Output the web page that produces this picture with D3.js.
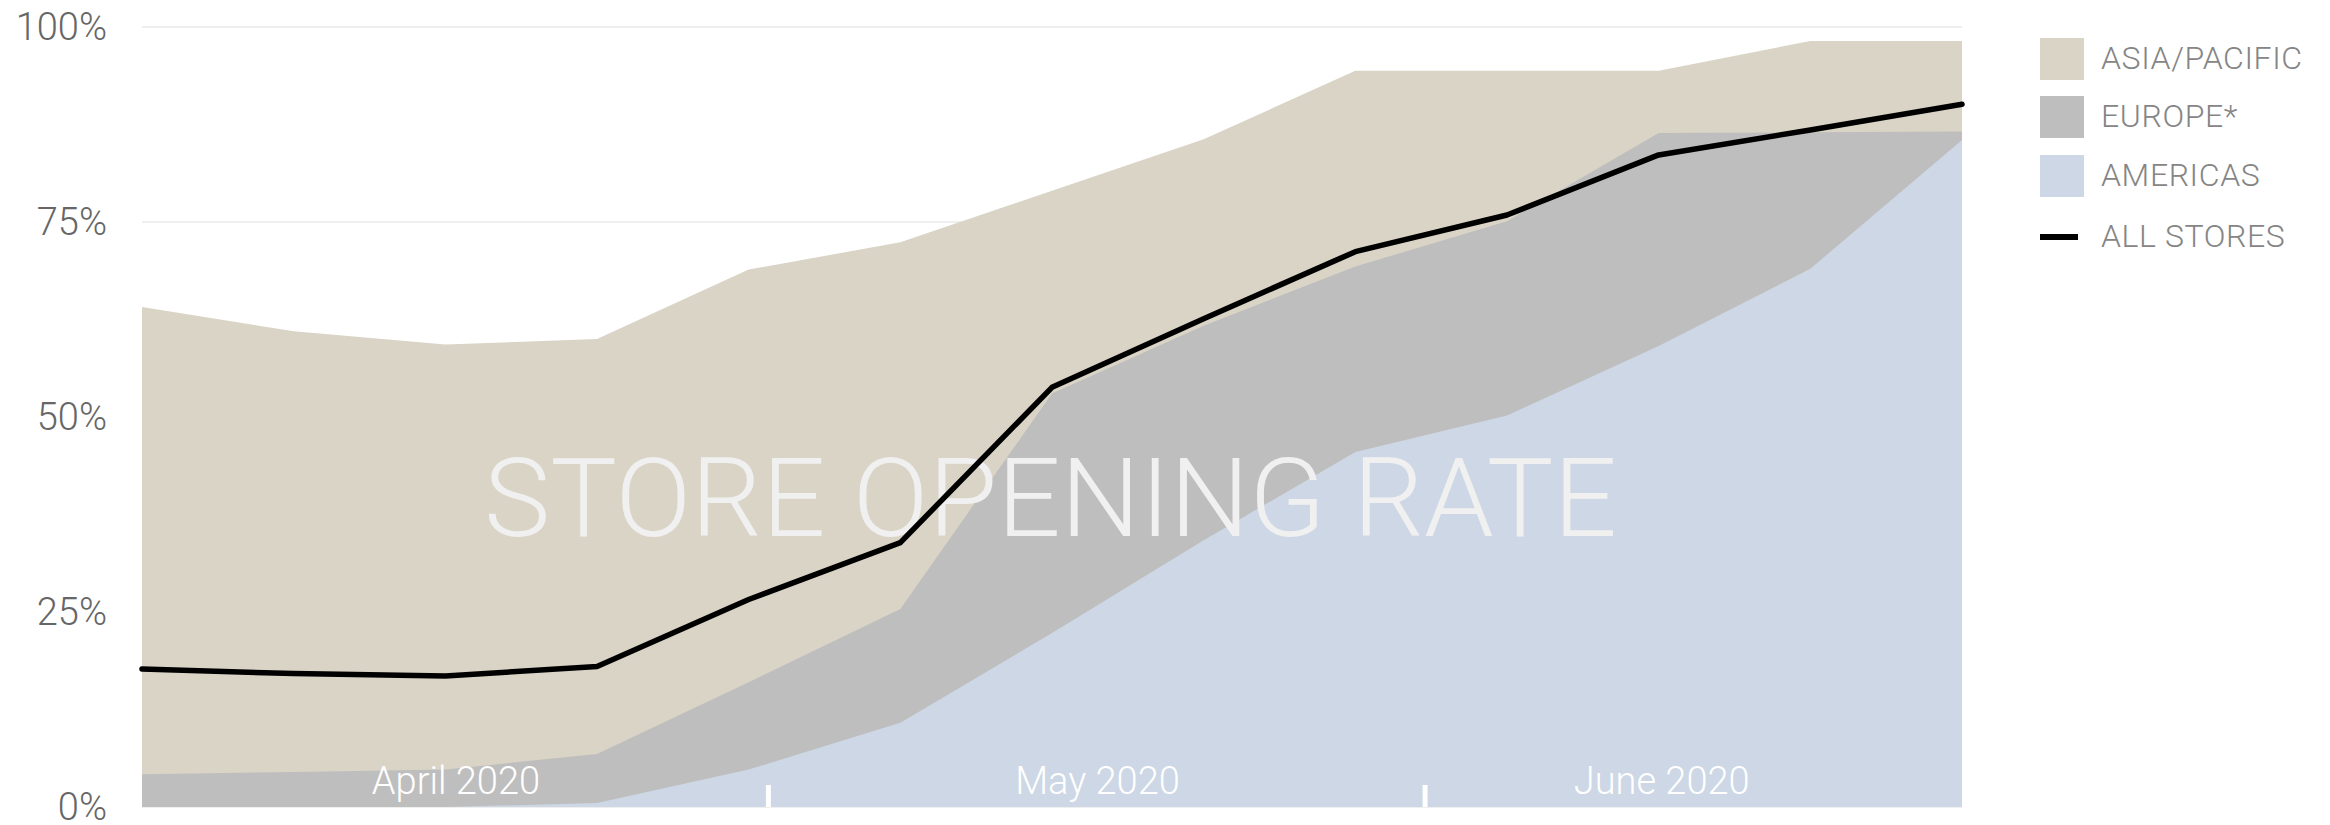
<!DOCTYPE html>
<html>
<head>
<meta charset="utf-8">
<script src="https://cdn.jsdelivr.net/npm/d3@7"></script>
<style>
  html, body { margin: 0; padding: 0; background: #ffffff; }
  svg { display: block; }
  text { font-family: Roboto, "Liberation Sans", sans-serif; }
</style>
</head>
<body>
<svg id="chart" width="2330" height="825"></svg>
<script>
// Weekly store opening rate by region, in percent of stores open
const weekIndex   = [0, 1, 2, 3, 4, 5, 6, 7, 8, 9, 10, 11, 12];
const asiaPacific = [64.1, 61.0, 59.3, 60.0, 68.9, 72.4, 79.0, 85.6, 94.4, 94.4, 94.4, 98.2, 98.2];
const europe      = [4.2, 4.5, 4.8, 6.8, 16.0, 25.4, 53.0, 61.7, 69.3, 75.1, 86.4, 86.5, 86.6];
const americas    = [0, 0, 0, 0.5, 4.8, 10.8, 22.3, 34.2, 45.5, 50.2, 59.1, 69.0, 85.5];
const allStores   = [17.7, 17.1, 16.8, 18.0, 26.6, 33.9, 53.8, 62.6, 71.2, 75.9, 83.6, 86.8, 90.1];

// Axis ticks and month markers (month positions in week units)
const yTicks = [0, 25, 50, 75, 100];
const monthLabels = ["April 2020", "May 2020", "June 2020"];
const monthLabelPos = [2.07, 6.30, 10.02];
const monthBreaks = [4.13, 8.46];

const seriesNames = ["ASIA/PACIFIC", "EUROPE*", "AMERICAS"];
const seriesColors = ["#dad4c6", "#bebebe", "#cdd7e5"];
const lineName = "ALL STORES";

const svg = d3.select("#chart");
const plot = { left: 142, right: 1962, top: 27, bottom: 807 };

const x = d3.scaleLinear().domain([weekIndex[0], weekIndex[weekIndex.length - 1]]).range([plot.left, plot.right]);
const y = d3.scaleLinear().domain([0, 100]).range([plot.bottom, plot.top]);

// Horizontal gridlines
svg.append("g")
  .selectAll("line")
  .data(yTicks)
  .join("line")
  .attr("x1", plot.left).attr("x2", plot.right)
  .attr("y1", d => y(d)).attr("y2", d => y(d))
  .attr("stroke", "#efefef").attr("stroke-width", 2);

// Y axis labels
const yAxis = svg.append("g")
  .attr("transform", `translate(${plot.left - 35},0)`)
  .call(d3.axisLeft(y).tickValues(yTicks).tickFormat(d => d + "%").tickSize(0).tickPadding(0));
yAxis.select(".domain").remove();
yAxis.selectAll("text")
  .attr("font-size", 38)
  .attr("font-weight", 300)
  .attr("fill", "#666666")
  .style("font-family", "Roboto, sans-serif");

// Overlapping regional areas, each from zero
const regionData = [asiaPacific, europe, americas];
const area = d3.area()
  .x((d, i) => x(weekIndex[i]))
  .y0(y(0))
  .y1(d => y(d));

svg.append("g")
  .selectAll("path")
  .data(regionData)
  .join("path")
  .attr("d", d => area(d))
  .attr("fill", (d, i) => seriesColors[i]);

// Month separators and labels along the bottom
svg.append("g")
  .selectAll("rect")
  .data(monthBreaks)
  .join("rect")
  .attr("x", d => x(d) - 2.5)
  .attr("y", plot.bottom - 22)
  .attr("width", 5)
  .attr("height", 22)
  .attr("fill", "#ffffff");

svg.append("g")
  .selectAll("text")
  .data(monthLabels)
  .join("text")
  .attr("x", (d, i) => x(monthLabelPos[i]))
  .attr("y", plot.bottom - 13)
  .attr("text-anchor", "middle")
  .attr("font-size", 38)
  .attr("font-weight", 300)
  .attr("fill", "#ffffff")
  .text(d => d);

// Chart title across the plot
svg.append("text")
  .attr("x", 484)
  .attr("y", 536)
  .attr("font-size", 110)
  .attr("font-weight", 300)
  .attr("fill", "#f0f0f0")
  .attr("textLength", 1133)
  .attr("lengthAdjust", "spacingAndGlyphs")
  .text("STORE OPENING RATE");

// All stores line
const line = d3.line()
  .x((d, i) => x(weekIndex[i]))
  .y(d => y(d));

svg.append("path")
  .datum(allStores)
  .attr("d", line)
  .attr("fill", "none")
  .attr("stroke", "#000000")
  .attr("stroke-width", 5.5)
  .attr("stroke-linejoin", "round")
  .attr("stroke-linecap", "round");

// Legend
const legend = svg.append("g").attr("transform", "translate(2040,0)");
const rowY = [59, 117, 176, 237];

legend.selectAll("rect")
  .data(seriesNames)
  .join("rect")
  .attr("x", 0)
  .attr("y", (d, i) => rowY[i] - 21)
  .attr("width", 44)
  .attr("height", 42)
  .attr("fill", (d, i) => seriesColors[i]);

legend.append("rect")
  .attr("x", 0)
  .attr("y", rowY[3] - 3)
  .attr("width", 38)
  .attr("height", 6)
  .attr("fill", "#000000");

legend.selectAll("text")
  .data(seriesNames.concat([lineName]))
  .join("text")
  .attr("x", 61)
  .attr("y", (d, i) => rowY[i] + 10)
  .attr("font-size", 32)
  .attr("font-weight", 300)
  .attr("letter-spacing", 0.6)
  .attr("fill", "#858585")
  .text(d => d);
</script>
</body>
</html>
